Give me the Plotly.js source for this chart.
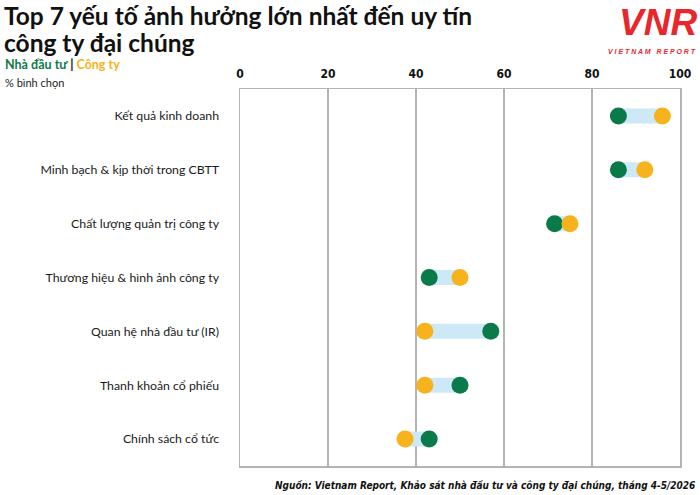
<!DOCTYPE html>
<html><head><meta charset="utf-8">
<script src="https://cdn.plot.ly/plotly-3.0.1.min.js"></script>
<style>html,body{margin:0;padding:0;background:#fff}#chart{width:700px;height:495px}</style>
</head><body><div id="chart"></div>
<script>
const categories = ["Kết quả kinh doanh","Minh bạch & kịp thời trong CBTT","Chất lượng quản trị công ty","Thương hiệu & hình ảnh công ty","Quan hệ nhà đầu tư (IR)","Thanh khoản cổ phiếu","Chính sách cổ tức"];
const investors = [86, 86, 71.5, 43, 57, 50, 43];
const companies = [96, 92, 75, 50, 42, 42, 37.5];
const xTicks = [0, 20, 40, 60, 80, 100];

const GREEN = "#0b7a4a", ORANGE = "#f8b21c", BLUE = "#cde8f7";

const lx = [], ly = [];
categories.forEach((c, i) => { lx.push(investors[i], companies[i], null); ly.push(c, c, null); });

const traces = [
  {x: lx, y: ly, mode: "lines", line: {color: BLUE, width: 15}, hoverinfo: "skip", showlegend: false},
  {x: investors, y: categories, mode: "markers", name: "Nhà đầu tư", marker: {color: GREEN, size: 17}, showlegend: false},
  {x: companies, y: categories, mode: "markers", name: "Công ty", marker: {color: ORANGE, size: 17}, showlegend: false}
];

const L = 240, R = 680, T = 89, B = 466;
const px = v => (v - L) / (R - L);
const py = v => (B - v) / (B - T);
const COND = "DejaVu Sans Condensed, DejaVu Sans";

const layout = {
  width: 700, height: 495,
  margin: {l: L, r: 700 - R, t: T, b: 495 - B, pad: 0},
  paper_bgcolor: "#fff", plot_bgcolor: "#fff",
  showlegend: false,
  xaxis: {
    side: "top", range: [0, 100], tickvals: xTicks, ticktext: xTicks.map(String),
    showgrid: true, gridcolor: "#b3b3b3", gridwidth: 1.5,
    showline: true, linecolor: "#b3b3b3", linewidth: 1.5, mirror: true,
    zeroline: false, ticks: "", ticklabelstandoff: 5,
    tickfont: {family: COND, size: 12, color: "#111", weight: "bold"},
    fixedrange: true
  },
  yaxis: {
    type: "category", categoryarray: categories, range: [6.5, -0.5],
    showgrid: false, zeroline: false, showline: true, linecolor: "#b3b3b3", linewidth: 1.5, mirror: true,
    ticks: "", ticklabelstandoff: 17,
    tickfont: {family: "Lato", size: 12.3, color: "#1a1a1a"},
    fixedrange: true
  },
  annotations: [
    {xref: "paper", yref: "paper", x: px(2), y: py(16), xanchor: "left", yanchor: "middle", align: "left",
     text: "<b>Top 7 yếu tố ảnh hưởng lớn nhất đến uy tín</b>", showarrow: false,
     font: {family: "Lato", size: 24.5, color: "#111"}},
    {xref: "paper", yref: "paper", x: px(2), y: py(42), xanchor: "left", yanchor: "middle", align: "left",
     text: "<b>công ty đại chúng</b>", showarrow: false,
     font: {family: "Lato", size: 24.5, color: "#111"}},
    {xref: "paper", yref: "paper", x: px(3), y: py(64), xanchor: "left", yanchor: "middle", align: "left",
     text: "<b><span style='color:" + GREEN + "'>Nhà đầu tư</span> | <span style='color:" + ORANGE + "'>Công ty</span></b>",
     showarrow: false, font: {family: "Lato", size: 12.5, color: "#111"}},
    {xref: "paper", yref: "paper", x: px(3), y: py(82), xanchor: "left", yanchor: "middle", align: "left",
     text: "% bình chọn", showarrow: false, font: {family: "Lato", size: 11, color: "#222"}},
    {xref: "paper", yref: "paper", x: px(697), y: py(485), xanchor: "right", yanchor: "middle", align: "right",
     text: "<b><i>Nguồn: Vietnam Report, Khảo sát nhà đầu tư và công ty đại chúng, tháng 4-5/2026</i></b>",
     showarrow: false, font: {family: COND, size: 10, color: "#111"}},
    {xref: "paper", yref: "paper", x: px(699), y: py(0), xanchor: "right", yanchor: "top",
     text: "<b><i>VNR</i></b>", showarrow: false, font: {family: "Liberation Sans", size: 37, color: "#e8262b"}},
    {xref: "paper", yref: "paper", x: px(698), y: py(52), xanchor: "right", yanchor: "middle",
     text: "<b><i>V I E T N A M  &nbsp;R E P O R T</i></b>", showarrow: false, font: {family: "Liberation Sans", size: 7, color: "#e8262b"}}
  ]
};

Plotly.newPlot("chart", traces, layout, {displayModeBar: false, staticPlot: true});
</script></body></html>
